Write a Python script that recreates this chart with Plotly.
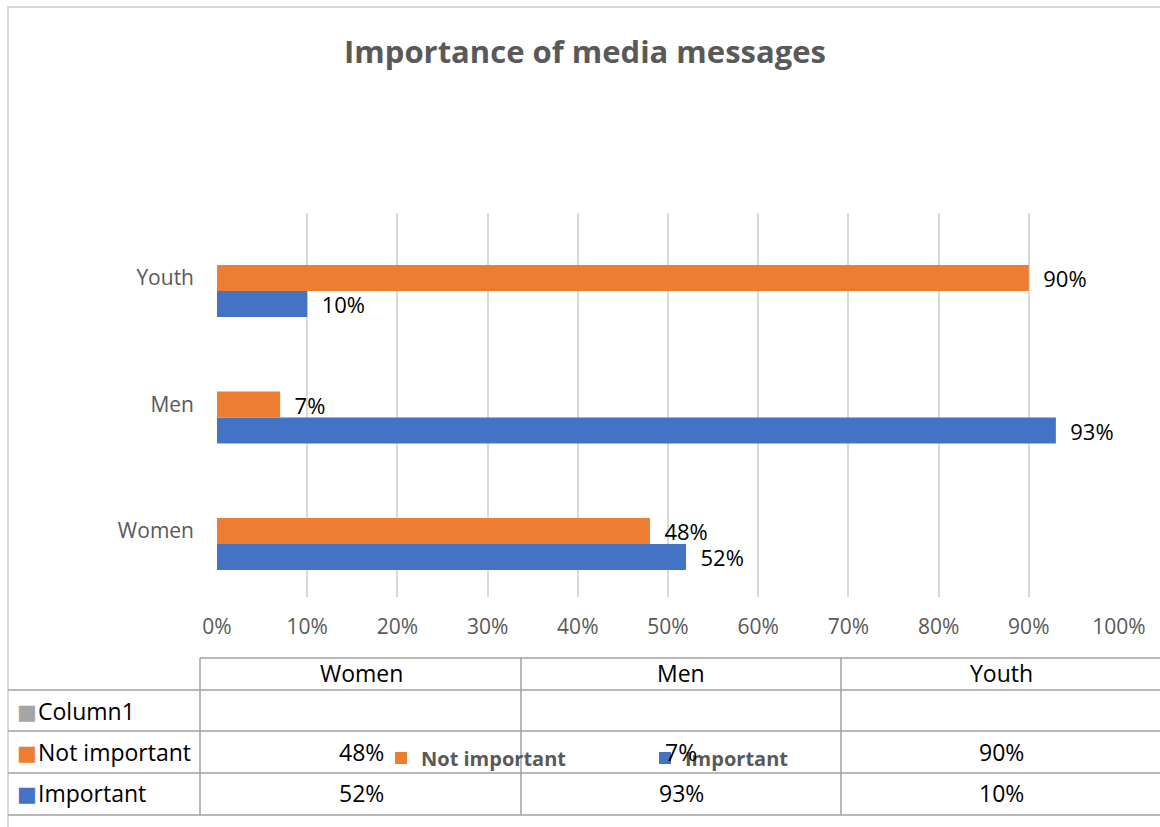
import plotly.graph_objects as go

categories = ["Women", "Men", "Youth"]
important = [0.52, 0.93, 0.10]
not_important = [0.48, 0.07, 0.90]
column1 = [None, None, None]
x_ticks = [0, 0.1, 0.2, 0.3, 0.4, 0.5, 0.6, 0.7, 0.8, 0.9, 1.0]
title_text = "Importance of media messages"

BLUE = "#4472C4"
ORANGE = "#ED7D31"
GRAY = "#A5A5A5"
TXT = "#595959"
FONT = "Open Sans"

W, H = 1160, 827
X0, X1, Y0, Y1 = 217, 1119, 213, 597


def px(x):
    return (x - X0) / (X1 - X0)


def py(y):
    return (Y1 - y) / (Y1 - Y0)


fig = go.Figure()
fig.add_trace(go.Bar(
    y=categories, x=important, orientation="h", name="Important",
    marker=dict(color=BLUE, line=dict(width=0)),
    texttemplate="\u00a0\u00a0%{x:.0%}", textposition="outside",
    textfont=dict(family=FONT, size=22, color="#000000"),
    constraintext="none", cliponaxis=False,
))
fig.add_trace(go.Bar(
    y=categories, x=not_important, orientation="h", name="Not important",
    marker=dict(color=ORANGE, line=dict(width=0)),
    texttemplate="\u00a0\u00a0%{x:.0%}", textposition="outside",
    textfont=dict(family=FONT, size=22, color="#000000"),
    constraintext="none", cliponaxis=False,
))

shapes = []
# chart border (open at the bottom and right, as in the reference crop)
shapes.append(dict(type="rect", xref="paper", yref="paper",
                   x0=px(8), x1=px(1180), y0=py(7), y1=py(860),
                   line=dict(color="#D9D9D9", width=2), layer="below"))
# table lines
LC = "#A0A0A0"
table_rows_y = [658, 690, 731, 773, 815]
for i, yy in enumerate(table_rows_y):
    shapes.append(dict(type="line", xref="paper", yref="paper",
                       x0=px(200 if i == 0 else 8), x1=px(1170),
                       y0=py(yy), y1=py(yy), line=dict(color=LC, width=1.5)))
col_x = [200, 521, 841]
for xx in col_x:
    shapes.append(dict(type="line", xref="paper", yref="paper",
                       x0=px(xx), x1=px(xx), y0=py(658), y1=py(815),
                       line=dict(color=LC, width=1.5)))

annotations = []
TFS = 23
col_centers = [361, 681, 1001]
for c, cx in zip(categories, col_centers):
    annotations.append(dict(text=c, xref="paper", yref="paper", x=px(cx), y=py(673),
                            showarrow=False, xanchor="center", yanchor="middle",
                            font=dict(family=FONT, size=TFS, color="#000000")))
rows = [("Column1", GRAY, column1, 711),
        ("Not important", ORANGE, not_important, 752),
        ("Important", BLUE, important, 793)]
for name, col, vals, yy in rows:
    annotations.append(dict(text="■", xref="paper", yref="paper", x=px(15), y=py(yy + 1),
                            showarrow=False, xanchor="left", yanchor="middle",
                            font=dict(family="DejaVu Sans", size=21, color=col)))
    annotations.append(dict(text=name, xref="paper", yref="paper", x=px(36), y=py(yy),
                            showarrow=False, xanchor="left", yanchor="middle",
                            font=dict(family=FONT, size=TFS, color="#000000")))
    for v, cx in zip(vals, col_centers):
        if v is None:
            continue
        annotations.append(dict(text=f"{v:.0%}", xref="paper", yref="paper",
                                x=px(cx), y=py(yy), showarrow=False,
                                xanchor="center", yanchor="middle",
                                font=dict(family=FONT, size=TFS, color="#000000")))

fig.update_layout(
    width=W, height=H,
    margin=dict(l=X0, r=W - X1, t=Y0, b=H - Y1),
    paper_bgcolor="white", plot_bgcolor="white",
    barmode="group", bargap=0.589, bargroupgap=0,
    title=dict(text=f"<b>{title_text}</b>", xref="container", yref="container",
               x=585 / W, y=1 - 52 / H, xanchor="center", yanchor="middle",
               font=dict(family=FONT, size=31, color=TXT)),
    xaxis=dict(range=[0, 1], tickvals=x_ticks, tickformat=".0%",
               showgrid=True, gridcolor="#D9D9D9", gridwidth=1.5,
               zeroline=False, showline=False, ticks="",
               ticklabelstandoff=15,
               tickfont=dict(family=FONT, size=21, color=TXT)),
    yaxis=dict(showgrid=False, zeroline=False, showline=False, ticks="",
               range=[-0.419, 2.617],
               ticklabelstandoff=22, ticklabelshift=-13,
               tickfont=dict(family=FONT, size=21, color=TXT)),
    showlegend=True,
    legend=dict(orientation="h", traceorder="reversed",
                x=px(381), y=py(758), xanchor="left", yanchor="middle",
                entrywidth=219, entrywidthmode="pixels",
                bgcolor="rgba(0,0,0,0)",
                font=dict(family=FONT, size=20, color=TXT, weight="bold")),
    shapes=shapes, annotations=annotations,
)

fig.write_html("out.html", config={"displayModeBar": False},
               post_script="document.body.style.margin='0';")
